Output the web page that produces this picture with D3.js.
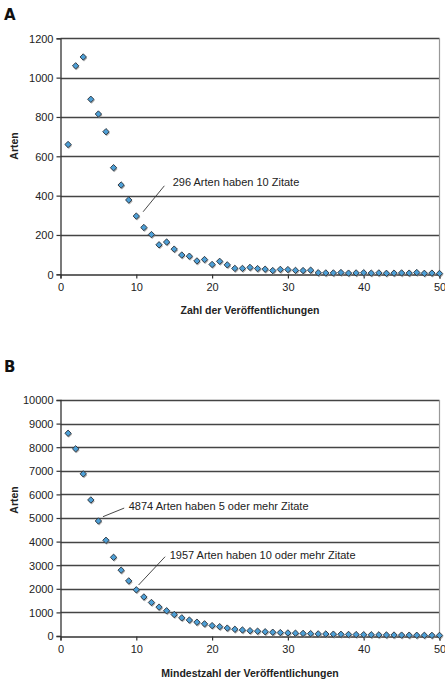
<!DOCTYPE html>
<html>
<head>
    <meta charset="utf-8">
    <title>Arten und Veröffentlichungen</title>
    <script src="https://cdn.jsdelivr.net/npm/d3@7/dist/d3.min.js"></script>
    <style>
        body { margin: 0; background: #fff; }
        svg { display: block; font-family: "Liberation Sans", Arial, sans-serif; }
        .tick-label { font-size: 11px; fill: #222; }
        .axis-title { font-size: 10.5px; font-weight: bold; fill: #222; }
        .panel-label { font-size: 15px; font-weight: bold; fill: #111; font-family: "DejaVu Sans", sans-serif; }
        .note { font-size: 11px; fill: #222; }
    </style>
</head>
<body>
<svg id="chart" width="445" height="681"></svg>

<script>
    // Daten: Anzahl Veröffentlichungen 1..50
    const publications = d3.range(1, 51);

    // A: Arten mit genau n Zitaten
    const speciesExact = [
        660, 1060, 1105, 890, 815, 725, 542, 454, 378, 296,
        238, 202, 150, 164, 128, 98, 92, 68, 75, 50,
        66, 48, 30, 30, 35, 29, 26, 19, 25, 24,
        20, 19, 21, 8, 7, 7, 9, 6, 7, 8,
        6, 7, 5, 6, 7, 6, 9, 5, 6, 4
    ];

    // B: Arten mit mindestens n Zitaten
    const speciesAtLeast = [
        8590, 7930, 6870, 5765, 4874, 4055, 3335, 2790, 2335, 1957,
        1655, 1420, 1225, 1070, 910, 770, 675, 585, 515, 440,
        395, 335, 285, 255, 225, 205, 180, 160, 145, 130,
        120, 110, 100, 90, 85, 78, 72, 66, 60, 56,
        52, 48, 44, 41, 38, 35, 32, 30, 27, 25
    ];

    const xTicks = [0, 10, 20, 30, 40, 50];
    const yTicksA = [0, 200, 400, 600, 800, 1000, 1200];
    const yTicksB = [0, 1000, 2000, 3000, 4000, 5000, 6000, 7000, 8000, 9000, 10000];

    // Anmerkungen: [Linie von x,y] [Linie bis x,y] [Text x,y] in Datenkoordinaten
    const notesA = [
        { text: "296 Arten haben 10 Zitate", from: [10.9, 318], to: [13.7, 450], at: [14.8, 449] }
    ];
    const notesB = [
        { text: "4874 Arten haben 5 oder mehr Zitate", from: [5.6, 5055], to: [8.4, 5420], at: [9.0, 5340] },
        { text: "1957 Arten haben 10 oder mehr Zitate", from: [10.3, 2160], to: [13.8, 3360], at: [14.4, 3265] }
    ];

    const svg = d3.select("#chart");

    // Zeichnet ein Teildiagramm
    const drawPanel = (cfg) => {
        const g = svg.append("g");
        const x = d3.scaleLinear().domain([0, 50]).range([60.5, 439.5]);
        const y = d3.scaleLinear().domain([0, cfg.yMax]).range([cfg.bottom, cfg.top]);

        // Buchstabe
        g.append("text").attr("class", "panel-label")
            .attr("x", 4).attr("y", cfg.letterY).text(cfg.letter);

        // Gitterlinien
        g.selectAll(".grid").data(cfg.yTicks.filter(d => d > 0)).enter()
            .append("line")
            .attr("x1", x(0)).attr("x2", x(50))
            .attr("y1", d => Math.round(y(d)) + 0.5).attr("y2", d => Math.round(y(d)) + 0.5)
            .attr("stroke", "#444").attr("stroke-width", 1.3);

        // rechter Rand
        g.append("line")
            .attr("x1", x(50)).attr("x2", x(50))
            .attr("y1", y(cfg.yMax)).attr("y2", y(0))
            .attr("stroke", "#999").attr("stroke-width", 1.2);

        // Y-Achse
        const yAxis = d3.axisLeft(y).tickValues(cfg.yTicks).tickFormat(d3.format("d"))
            .tickSize(4).tickPadding(3);
        const ya = g.append("g").attr("transform", `translate(${x(0)},0)`).call(yAxis);
        // X-Achse
        const xAxis = d3.axisBottom(x).tickValues(xTicks).tickFormat(d3.format("d"))
            .tickSize(4).tickPadding(5);
        const xa = g.append("g").attr("transform", `translate(0,${Math.round(y(0)) + 0.5})`).call(xAxis);

        [ya, xa].forEach(a => {
            a.attr("font-family", null).attr("font-size", null);
            a.select(".domain").attr("stroke", "#333").attr("stroke-width", 1.3);
            a.selectAll(".tick line").attr("stroke", "#333").attr("stroke-width", 1.2);
            a.selectAll(".tick text").attr("class", "tick-label");
        });
        ya.selectAll(".tick text").attr("dy", "0.35em");

        // Achsentitel
        g.append("text").attr("class", "axis-title")
            .attr("text-anchor", "middle")
            .attr("x", 250).attr("y", cfg.xTitleY).text(cfg.xTitle);
        g.append("text").attr("class", "axis-title")
            .attr("text-anchor", "middle")
            .attr("transform", `translate(18,${cfg.yTitleY}) rotate(-90)`)
            .text("Arten");

        // Anmerkungen
        cfg.notes.forEach(n => {
            g.append("line")
                .attr("x1", x(n.from[0])).attr("y1", y(n.from[1]))
                .attr("x2", x(n.to[0])).attr("y2", y(n.to[1]))
                .attr("stroke", "#333").attr("stroke-width", 0.9);
            g.append("text").attr("class", "note")
                .attr("x", x(n.at[0])).attr("y", y(n.at[1])).text(n.text);
        });

        // Punkte (Rauten mit Schatten)
        const diamond = d3.symbol().type(d3.symbolDiamond2).size(26);
        const pts = publications.map((p, i) => ({ p, v: cfg.values[i] }));
        g.selectAll(".shadow").data(pts).enter().append("path")
            .attr("d", diamond)
            .attr("transform", d => `translate(${x(d.p) + 0.8},${y(d.v) + 1.3})`)
            .attr("fill", "#8a8a8a").attr("opacity", 0.7);
        g.selectAll(".pt").data(pts).enter().append("path")
            .attr("d", diamond)
            .attr("transform", d => `translate(${x(d.p)},${y(d.v)})`)
            .attr("fill", "#4d9fd6").attr("stroke", "#2a2f36").attr("stroke-width", 0.9);
    };

    drawPanel({
        letter: "A", letterY: 20, values: speciesExact, yMax: 1200, yTicks: yTicksA,
        top: 38.3, bottom: 274.3, xTitle: "Zahl der Veröffentlichungen", xTitleY: 314,
        yTitleY: 146, notes: notesA
    });
    drawPanel({
        letter: "B", letterY: 372, values: speciesAtLeast, yMax: 10000, yTicks: yTicksB,
        top: 400, bottom: 636, xTitle: "Mindestzahl der Veröffentlichungen", xTitleY: 677,
        yTitleY: 500, notes: notesB
    });
</script>
</body>
</html>
